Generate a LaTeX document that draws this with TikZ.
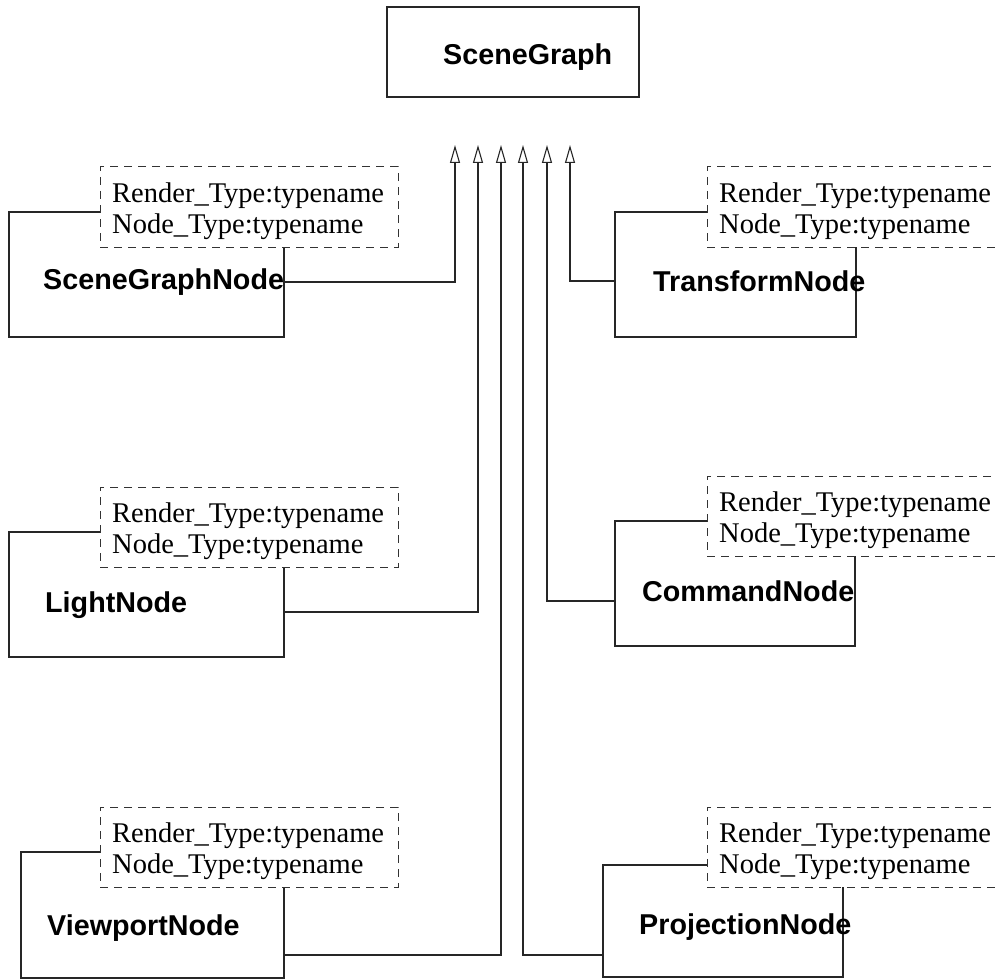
\documentclass[tikz,border=0pt]{standalone}
\usepackage{fontspec}
\setmainfont{Liberation Serif}
\newfontfamily\hvfont{Liberation Sans}
\usetikzlibrary{arrows.meta}
\begin{document}
\begin{tikzpicture}[x=1pt,y=-1pt,
  box/.style={draw=black!85, line width=1.1pt, rectangle, inner sep=0pt, outer sep=0pt, anchor=north west},
  attr/.style={draw=black!80, dash pattern=on 8pt off 6pt, line width=1pt, fill=white, rectangle, inner sep=0pt, outer sep=0pt, anchor=north west, minimum width=298pt, minimum height=80pt},
  cls/.style={anchor=base west, inner sep=0pt, font=\hvfont\bfseries\fontsize{28.7}{32}\selectfont},
  txt/.style={anchor=base west, inner sep=0pt, font=\fontsize{28.5}{31}\selectfont},
  inh/.style={draw=black!85, line width=1.1pt, -{Triangle[open, length=18pt, width=10pt]}}]
\useasboundingbox (0,0) rectangle (996,979);
\clip (0,0) rectangle (996,979);

% SceneGraph
\node[box, minimum width=252pt, minimum height=90pt] (sg) at (387,7) {};
\node[cls] (sgl) at (443,65) {SceneGraph};

% class boxes
\node[box, minimum width=275pt, minimum height=125pt] (sgn) at (9,212) {};
\node[box, minimum width=241pt, minimum height=125pt] (trn) at (615,212) {};
\node[box, minimum width=275pt, minimum height=125pt] (lgn) at (9,532) {};
\node[box, minimum width=240pt, minimum height=125pt] (cmn) at (615,521) {};
\node[box, minimum width=263pt, minimum height=126pt] (vpn) at (21,852) {};
\node[box, minimum width=240pt, minimum height=112pt] (prn) at (603,865) {};

% class names
\node[cls] (sgnl) at (43,289) {SceneGraphNode};
\node[cls] (trnl) at (653,291) {TransformNode};
\node[cls] (lgnl) at (45,612) {LightNode};
\node[cls] (cmnl) at (642,601) {CommandNode};
\node[cls] (vpnl) at (47,935) {ViewportNode};
\node[cls] (prnl) at (639,934) {ProjectionNode};

% arrow tips
\coordinate (t1) at (455,145);
\coordinate (t2) at (478,145);
\coordinate (t3) at (501,145);
\coordinate (t4) at (523,145);
\coordinate (t5) at (547,145);
\coordinate (t6) at (570,145);

% connectors
\draw[inh] (sgn.east |- 0,282) -| (t1);
\draw[inh] (lgn.east |- 0,612) -| (t2);
\draw[inh] (vpn.east |- 0,955) -| (t3);
\draw[inh] (prn.west |- 0,955) -| (t4);
\draw[inh] (cmn.west |- 0,601) -| (t5);
\draw[inh] (trn.west |- 0,281) -| (t6);

% attribute boxes
\foreach \nm/\x/\y in {asgn/100/167, atrn/707/167, algn/100/487, acmn/707/476, avpn/100/807, aprn/707/807}{
  \node[attr] (\nm) at (\x,\y) {};
  \node[txt] at ([xshift=12pt,yshift=-35pt]\nm.north west) {Render\_Type:typename};
  \node[txt] at ([xshift=12pt,yshift=-66pt]\nm.north west) {Node\_Type:typename};
}
\end{tikzpicture}
\end{document}
